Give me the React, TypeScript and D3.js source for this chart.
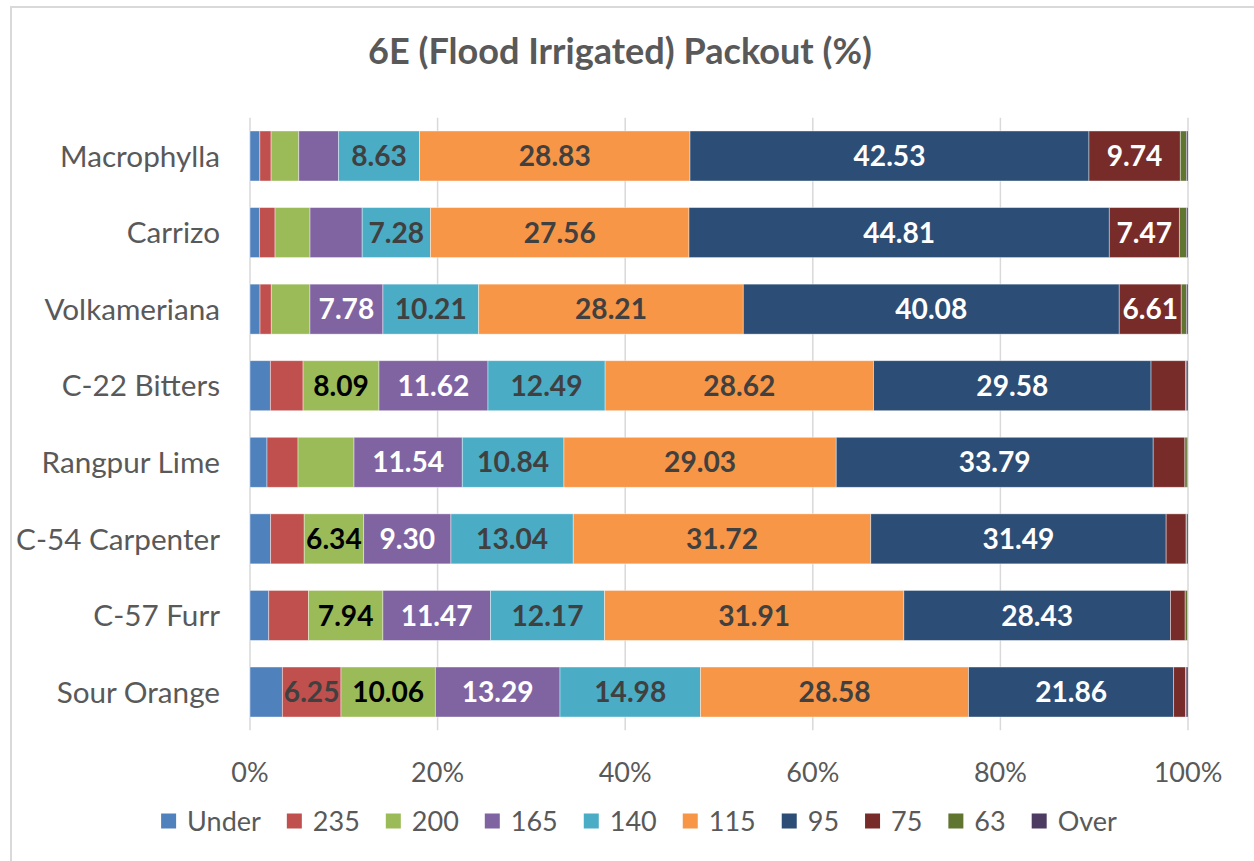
import React, { useMemo } from "react";
import * as d3 from "d3";

const categories = ["Macrophylla", "Carrizo", "Volkameriana", "C-22 Bitters", "Rangpur Lime", "C-54 Carpenter", "C-57 Furr", "Sour Orange"];
const seriesNames = ["Under", "235", "200", "165", "140", "115", "95", "75", "63", "Over"];
const under = [1.05, 1.0, 1.07, 2.17, 1.81, 2.2, 2.0, 3.45];
const s235 = [1.2, 1.67, 1.2, 3.49, 3.31, 3.58, 4.23, 6.25];
const s200 = [2.95, 3.73, 4.12, 8.09, 5.97, 6.34, 7.94, 10.06];
const s165 = [4.25, 5.56, 7.78, 11.62, 11.54, 9.3, 11.47, 13.29];
const s140 = [8.63, 7.28, 10.21, 12.49, 10.84, 13.04, 12.17, 14.98];
const s115 = [28.83, 27.56, 28.21, 28.62, 29.03, 31.72, 31.91, 28.58];
const s95 = [42.53, 44.81, 40.08, 29.58, 33.79, 31.49, 28.43, 21.86];
const s75 = [9.74, 7.47, 6.61, 3.7, 3.38, 2.13, 1.57, 1.28];
const s63 = [0.65, 0.75, 0.55, 0.05, 0.25, 0.05, 0.25, 0.05];
const over = [0.17, 0.17, 0.17, 0.19, 0.08, 0.15, 0.05, 0.2];
const seriesValues = [under, s235, s200, s165, s140, s115, s95, s75, s63, over];
const tickValues = [0, 0.2, 0.4, 0.6, 0.8, 1.0];
const title = "6E (Flood Irrigated) Packout (%)";

const colors = ["#4F81BD", "#C0504D", "#9BBB59", "#8064A2", "#4BACC6", "#F79646", "#2C4D75", "#772C2A", "#5F7530", "#4D3B62"];
const labelColors = ["#404040", "#404040", "#000000", "#FFFFFF", "#404040", "#404040", "#FFFFFF", "#FFFFFF", "#FFFFFF", "#FFFFFF"];

const FAMILY = "Lato";
const TEXT = "#595959";

function measure(text: string, font: string): number {
  const c = document.createElement("canvas").getContext("2d");
  if (!c) return text.length * 15;
  c.font = font;
  return c.measureText(text).width;
}

function fitSize(text: string, target: number, bold: boolean): number {
  const w = measure(text, `${bold ? "bold " : ""}30px ${FAMILY}`);
  return (30 * target) / w;
}

export default function App() {
  const W = 1254, H = 861;
  const x0 = 250, x1 = 1188, top = 117.7, bottom = 730.3;

  const sizes = useMemo(() => {
    return {
      cat: fitSize("Macrophylla", 160, false),
      tick: fitSize("20%", 53, false),
      title: fitSize(title, 504, true),
      label: fitSize("28.83", 72, true),
    };
  }, []);

  const rows = categories.map((c, i) => {
    const r: any = { cat: c };
    seriesNames.forEach((s, j) => (r[s] = seriesValues[j][i]));
    return r;
  });
  const stacked = d3.stack<any>().keys(seriesNames).offset(d3.stackOffsetExpand)(rows);

  const x = d3.scaleLinear().domain([0, 1]).range([x0, x1]);
  const y = d3.scaleBand<string>().domain(categories).range([top, bottom]).paddingInner(0.347).paddingOuter(0.1735);

  const legendFont = `${sizes.tick}px ${FAMILY}`;
  const keySize = 15;
  const keyGap = 11;
  const itemGap = 26;
  const widths = seriesNames.map((s) => keySize + keyGap + measure(s, legendFont));
  const total = d3.sum(widths) + itemGap * (seriesNames.length - 1);
  let cursor = 639 - total / 2;
  const legendItems = seriesNames.map((s, i) => {
    const pos = cursor;
    cursor += widths[i] + itemGap;
    return { s, i, pos };
  });

  return (
    <svg width={W} height={H} style={{ position: "absolute", left: 0, top: 0, fontFamily: FAMILY }}>
      <rect x={0} y={0} width={W} height={H} fill="#fff" />
      <rect x={11} y={7} width={W + 20} height={H + 20} fill="#fff" stroke="#D9D9D9" strokeWidth={2} />
      <text x={620} y={63.5} textAnchor="middle" fontWeight="bold" fontSize={sizes.title} fill={TEXT}>
        {title}
      </text>
      {tickValues.map((t) => (
        <line key={t} x1={x(t)} x2={x(t)} y1={top} y2={bottom} stroke="#D9D9D9" strokeWidth={1.5} />
      ))}
      {stacked.map((layer, j) =>
        layer.map((d, i) => {
          const yy = y(categories[i])!;
          return (
            <rect
              key={`${j}-${i}`}
              x={x(d[0])}
              y={yy}
              width={Math.max(0, x(d[1]) - x(d[0]))}
              height={y.bandwidth()}
              fill={colors[j]}
              stroke="#FFFFFF"
              strokeOpacity={0.5}
              strokeWidth={0.8}
            />
          );
        })
      )}
      {stacked.map((layer, j) =>
        layer.map((d, i) => {
          const v = seriesValues[j][i];
          if (v < 6) return null;
          const cy = y(categories[i])! + y.bandwidth() / 2;
          return (
            <text
              key={`l${j}-${i}`}
              x={(x(d[0]) + x(d[1])) / 2}
              y={cy + sizes.label * 0.36}
              textAnchor="middle"
              fontWeight="bold"
              fontSize={sizes.label}
              fill={labelColors[j]}
            >
              {v.toFixed(2)}
            </text>
          );
        })
      )}
      {categories.map((c) => (
        <text key={c} x={220} y={y(c)! + y.bandwidth() / 2 + sizes.cat * 0.36} textAnchor="end" fontSize={sizes.cat} fill={TEXT}>
          {c}
        </text>
      ))}
      {tickValues.map((t) => (
        <text key={`t${t}`} x={x(t)} y={781.7} textAnchor="middle" fontSize={sizes.tick} fill={TEXT}>
          {d3.format(".0%")(t)}
        </text>
      ))}
      {legendItems.map(({ s, i, pos }) => (
        <g key={s}>
          <rect x={pos} y={813.5} width={keySize} height={keySize} fill={colors[i]} />
          <text x={pos + keySize + keyGap} y={831} fontSize={sizes.tick} fill={TEXT}>
            {s}
          </text>
        </g>
      ))}
    </svg>
  );
}
